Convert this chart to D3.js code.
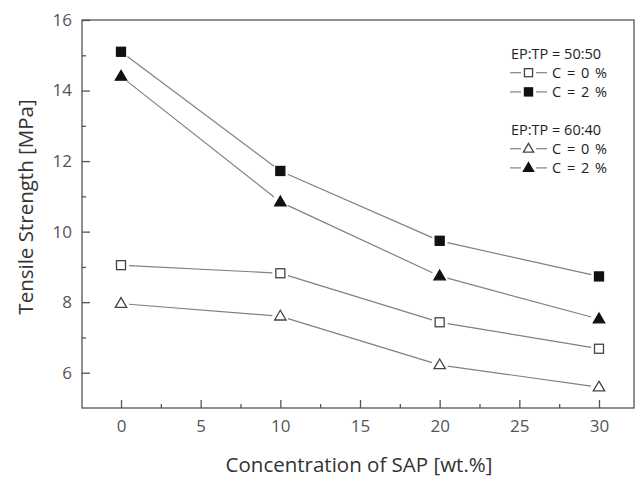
<!DOCTYPE html>
<html><head><meta charset="utf-8">
<script src="https://cdn.jsdelivr.net/npm/d3@7"></script>
<style>body{margin:0;background:#fff}svg{display:block}</style>
</head><body>
<script>
const concentrations = [0, 10, 20, 30];
const ep5050_c0 = [9.05, 8.82, 7.43, 6.68];
const ep5050_c2 = [15.1, 11.72, 9.74, 8.73];
const ep6040_c0 = [7.96, 7.6, 6.22, 5.59];
const ep6040_c2 = [14.4, 10.84, 8.74, 7.52];
const xTicks = [0, 5, 10, 15, 20, 25, 30];
const yTicks = [6, 8, 10, 12, 14, 16];
const xMinor = [2.5, 7.5, 12.5, 17.5, 22.5, 27.5];
const yMinor = [7, 9, 11, 13, 15];

const series = [
  {name: "C = 0 %", group: "EP:TP = 50:50", values: ep5050_c0, shape: "square", filled: false},
  {name: "C = 2 %", group: "EP:TP = 50:50", values: ep5050_c2, shape: "square", filled: true},
  {name: "C = 0 %", group: "EP:TP = 60:40", values: ep6040_c0, shape: "triangle", filled: false},
  {name: "C = 2 %", group: "EP:TP = 60:40", values: ep6040_c2, shape: "triangle", filled: true}
];

const W = 635, H = 478;
const pL = 82, pR = 634, pT = 20, pB = 408;
const svg = d3.select("body").append("svg").attr("width", W).attr("height", H);
const font = "'Open Sans', 'Noto Sans', sans-serif";

const x = d3.scaleLinear().domain([0, 30]).range([121, 599]);
const y = d3.scaleLinear().domain([5, 16]).range([pB, pT]);

const axisColor = "#555";
svg.append("rect").attr("x", pL).attr("y", pT).attr("width", pR - pL).attr("height", pB - pT)
  .attr("fill", "none").attr("stroke", axisColor).attr("stroke-width", 1.3);

const gx = svg.append("g").attr("transform", `translate(0,${pB})`)
  .call(d3.axisBottom(x).tickValues(xTicks).tickSize(-8).tickFormat(d3.format("d")));
gx.select(".domain").remove();
gx.selectAll(".tick line").attr("stroke", axisColor).attr("stroke-width", 1.3);
gx.selectAll(".tick text").attr("font-family", font).attr("font-size", 17).attr("fill", "#555").attr("dy", "0.71em").attr("y", 12);
const gxm = svg.append("g").attr("transform", `translate(0,${pB})`)
  .call(d3.axisBottom(x).tickValues(xMinor).tickSize(-4).tickFormat(""));
gxm.select(".domain").remove();
gxm.selectAll(".tick line").attr("stroke", axisColor).attr("stroke-width", 1.3);

const gy = svg.append("g").attr("transform", `translate(${pL},0)`)
  .call(d3.axisLeft(y).tickValues(yTicks).tickSize(-8).tickFormat(d3.format("d")));
gy.select(".domain").remove();
gy.selectAll(".tick line").attr("stroke", axisColor).attr("stroke-width", 1.3);
gy.selectAll(".tick text").attr("font-family", font).attr("font-size", 17).attr("fill", "#555").attr("x", -10);
const gym = svg.append("g").attr("transform", `translate(${pL},0)`)
  .call(d3.axisLeft(y).tickValues(yMinor).tickSize(-4).tickFormat(""));
gym.select(".domain").remove();
gym.selectAll(".tick line").attr("stroke", axisColor).attr("stroke-width", 1.3);

svg.append("text").attr("x", 359).attr("y", 472).attr("text-anchor", "middle")
  .attr("font-family", font).attr("font-size", 20.5).attr("fill", "#333").text("Concentration of SAP [wt.%]");
svg.append("text").attr("transform", `translate(33,207) rotate(-90)`).attr("text-anchor", "middle")
  .attr("font-family", font).attr("font-size", 20.5).attr("fill", "#333").text("Tensile Strength [MPa]");

const lineColor = "#808080";
function drawMarker(g, cx, cy, s, sz) {
  const k = sz || 1;
  if (s.shape === "square") {
    const h = 4.5 * k;
    g.append("rect").attr("x", cx - h).attr("y", cy - h).attr("width", 2 * h).attr("height", 2 * h)
      .attr("fill", s.filled ? "#111" : "#fff").attr("stroke", s.filled ? "#111" : "#444").attr("stroke-width", 1.3);
  } else {
    const r = 6 * k;
    const pts = [[cx, cy - r], [cx + r * 0.95, cy + r * 0.62], [cx - r * 0.95, cy + r * 0.62]];
    g.append("polygon").attr("points", pts.map(p => p.join(",")).join(" "))
      .attr("fill", s.filled ? "#111" : "#fff").attr("stroke", s.filled ? "#111" : "#444").attr("stroke-width", 1.3);
  }
}

const gap = 8;
series.forEach(s => {
  const g = svg.append("g");
  const pts = concentrations.map((c, i) => [x(c), y(s.values[i])]);
  for (let i = 0; i < pts.length - 1; i++) {
    const [x1, y1] = pts[i], [x2, y2] = pts[i + 1];
    const dx = x2 - x1, dy = y2 - y1, L = Math.hypot(dx, dy);
    const ux = dx / L, uy = dy / L;
    g.append("line").attr("x1", x1 + ux * gap).attr("y1", y1 + uy * gap)
      .attr("x2", x2 - ux * gap).attr("y2", y2 - uy * gap)
      .attr("stroke", lineColor).attr("stroke-width", 1.2);
  }
  pts.forEach(p => drawMarker(g, p[0], p[1], s));
});

const leg = svg.append("g");
const legFont = 14.5;
const groups = ["EP:TP = 50:50", "EP:TP = 60:40"];
const groupY = [53.5, 129.5];
groups.forEach((gname, gi) => {
  const baseY = groupY[gi];
  leg.append("text").attr("x", 511).attr("y", baseY).attr("dy", "0.35em")
    .attr("font-family", font).attr("font-size", legFont).attr("fill", "#222").text(gname);
  series.filter(s => s.group === gname).forEach((s, i) => {
    const ly = baseY + 19.2 * (i + 1);
    leg.append("line").attr("x1", 510).attr("x2", 521).attr("y1", ly).attr("y2", ly).attr("stroke", lineColor).attr("stroke-width", 1.2);
    leg.append("line").attr("x1", 536).attr("x2", 547).attr("y1", ly).attr("y2", ly).attr("stroke", lineColor).attr("stroke-width", 1.2);
    drawMarker(leg, 528.5, ly, s, 0.9);
    leg.append("text").attr("x", 552).attr("y", ly).attr("dy", "0.35em")
      .attr("font-family", font).attr("font-size", legFont).attr("word-spacing", 2).attr("fill", "#222").text(s.name);
  });
});
</script>
</body></html>
